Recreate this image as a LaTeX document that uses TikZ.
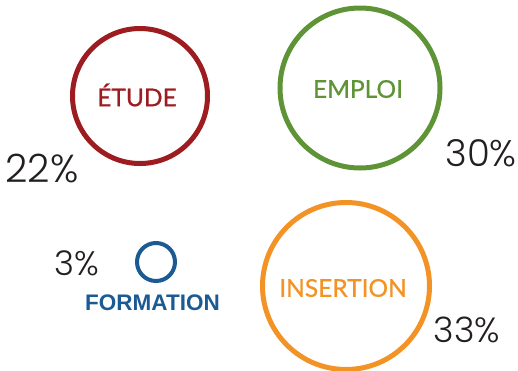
\documentclass[tikz,border=0pt]{standalone}
\usepackage{fontspec}
\setmainfont{Lato}
\newfontfamily\labfont{Lato}[FakeBold=0.7]
\newfontfamily\pctfont{Poppins Light}
\newfontfamily\formfont{Liberation Sans}
\definecolor{cred}{HTML}{9D1C20}
\definecolor{cgreen}{HTML}{5F9436}
\definecolor{corange}{HTML}{F39325}
\definecolor{cblue}{HTML}{1B5A93}
\definecolor{cgray}{HTML}{231F20}
\begin{document}
\begin{tikzpicture}[x=1pt,y=-1pt,
  ring/.style={circle,line width=5pt,inner sep=0pt,minimum size=#1},
  lab/.style={font=\labfont\fontsize{24.5}{24.5}\selectfont,inner sep=0pt,anchor=center},
  pct/.style={font=\pctfont\fontsize{37}{37}\selectfont,text=cgray,inner sep=0pt}]
\useasboundingbox (0,0) rectangle (518,370);
\node[ring=135pt,draw=cred] (etude) at (140,96) {};
\node[ring=160pt,draw=cgreen] (emploi) at (360,88) {};
\node[ring=167pt,draw=corange] (insertion) at (346,286) {};
\node[circle,line width=4pt,inner sep=0pt,minimum size=38pt,draw=cblue] (formation) at (156,262) {};
\node[lab,text=cred] (tetude) at (137,95) {ÉTUDE};
\node[lab,text=cgreen] (temploi) at (358,89) {EMPLOI};
\node[lab,text=corange] (tinsertion) at (343,288) {INSERTION};
\node[font=\formfont\bfseries\fontsize{22.5}{22.5}\selectfont,text=cblue,inner sep=0pt] (tformation) at (152.5,303) {FORMATION};
\node[pct,anchor=base,font=\pctfont\fontsize{39}{39}\selectfont] (p22) at (42,182) {22\%};
\node[pct,anchor=base] (p30) at (481,166) {30\%};
\node[pct,anchor=base,font=\pctfont\fontsize{34}{34}\selectfont] (p3) at (77,275) {3\%};
\node[pct,anchor=base,font=\pctfont\fontsize{35}{35}\selectfont] (p33) at (467,342) {33\%};
\end{tikzpicture}
\end{document}
